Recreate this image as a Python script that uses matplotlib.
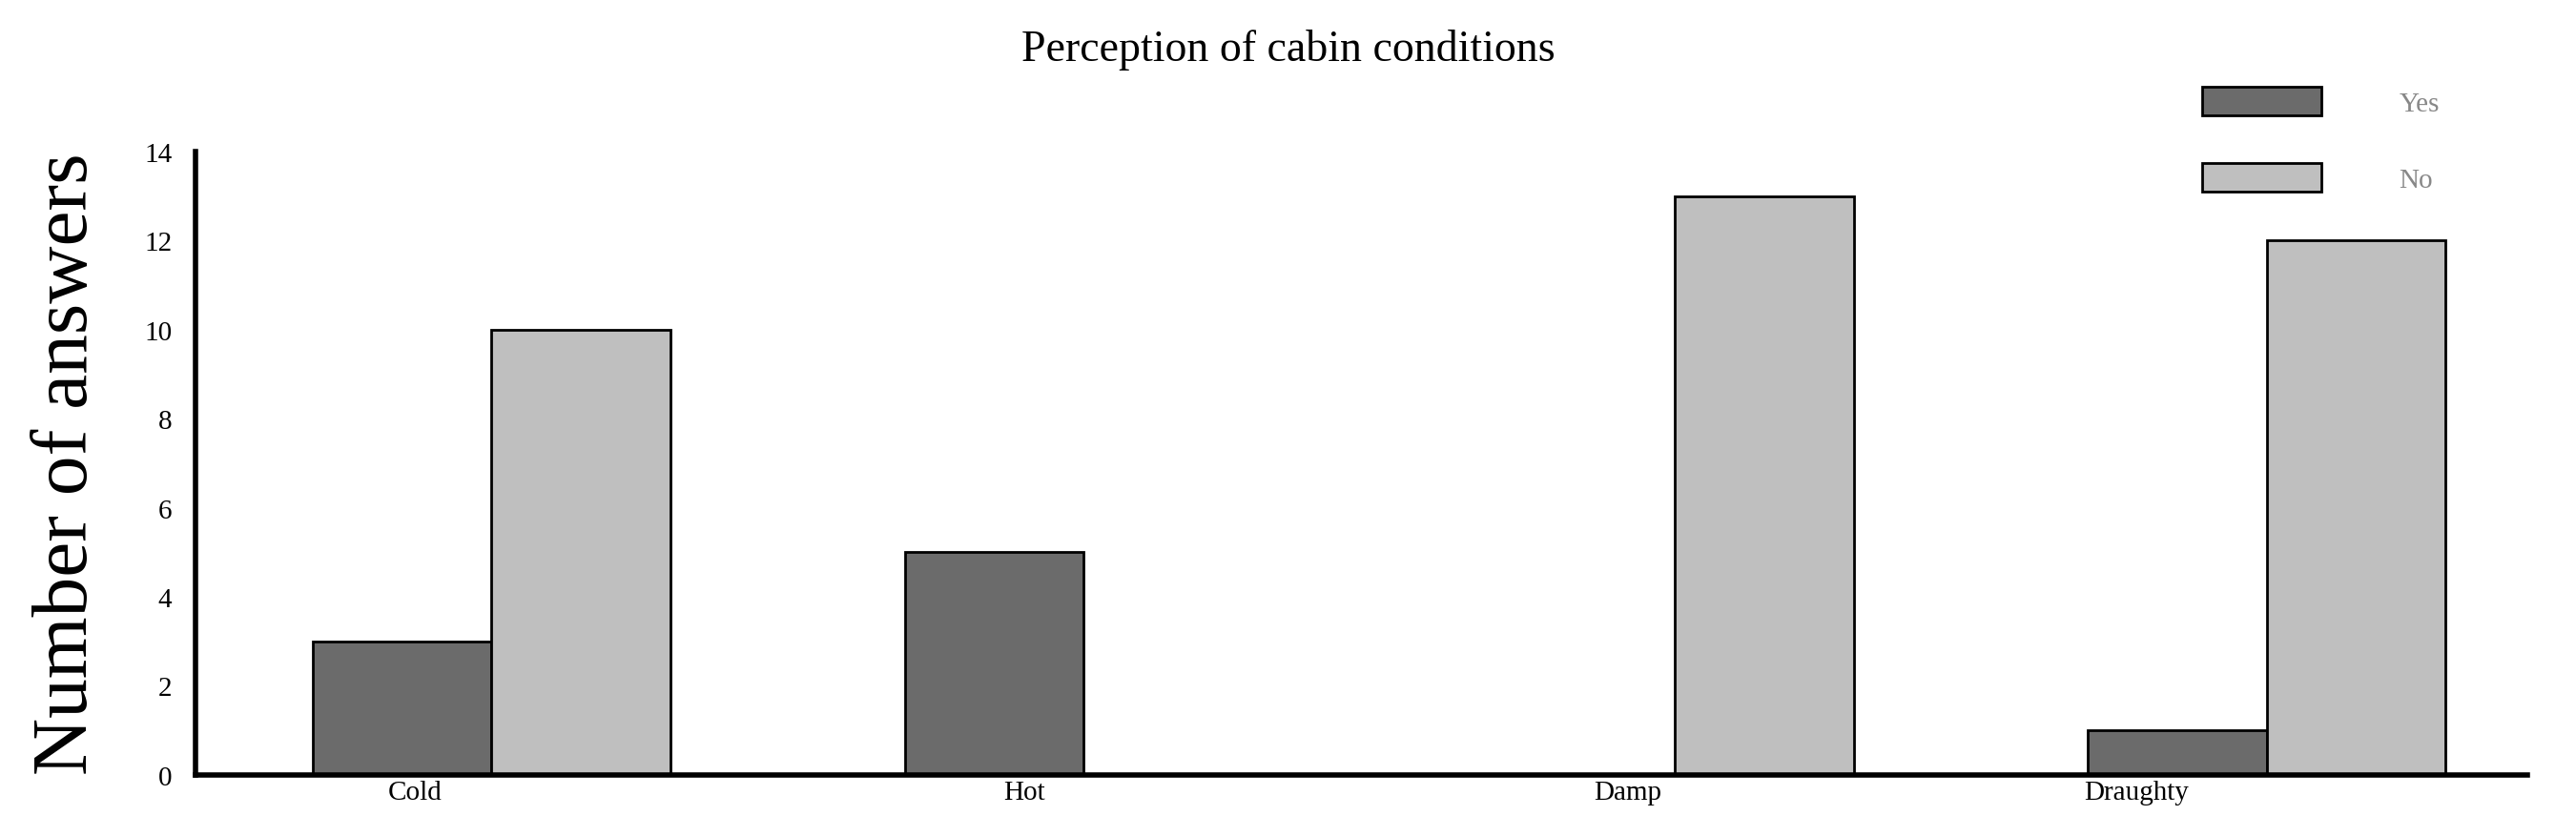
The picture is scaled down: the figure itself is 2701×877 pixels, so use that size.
import numpy as np
import matplotlib.pyplot as plt

categories = ["Cold", "Hot", "Damp", "Draughty"]
yes_vals = [3, 5, 0, 1]
no_vals = [10, 0, 13, 12]
label_shift = [-0.13, -0.10, -0.08, -0.22]

plt.rcParams['font.family'] = ['Liberation Serif', 'DejaVu Serif']

fig = plt.figure(figsize=(27.01, 8.78), dpi=100)
ax = fig.add_axes([0.076, 0.073, 0.905, 0.745])

x = np.arange(len(categories))
w = 0.302
ax.bar(x - w / 2, yes_vals, w, color="#6b6b6b", edgecolor="black", linewidth=2, label="Yes")
ax.bar(x + w / 2, no_vals, w, color="#bfbfbf", edgecolor="black", linewidth=2, label="No")

ax.set_xlim(-0.5, 3.44)
ax.set_ylim(0, 14)
ax.set_yticks(range(0, 15, 2))
ax.set_xticks(x + np.array(label_shift))
ax.set_xticklabels(categories)
ax.tick_params(axis="both", length=0, labelsize=21)
ax.tick_params(axis="y", pad=18)
for s in ["top", "right"]:
    ax.spines[s].set_visible(False)
for s in ["left", "bottom"]:
    ax.spines[s].set_linewidth(4)

ax.set_ylabel("Number of answers", fontsize=60, labelpad=30)
fig.suptitle("Perception of cabin conditions", fontsize=33, y=0.965)

leg = fig.legend(loc="upper left", bbox_to_anchor=(0.845, 0.925), frameon=False,
                 fontsize=21, handlelength=4.3, handleheight=1.2, labelspacing=1.7,
                 handletextpad=2.8)
for t in leg.get_texts():
    t.set_color("#888888")

fig.savefig("out.png")
